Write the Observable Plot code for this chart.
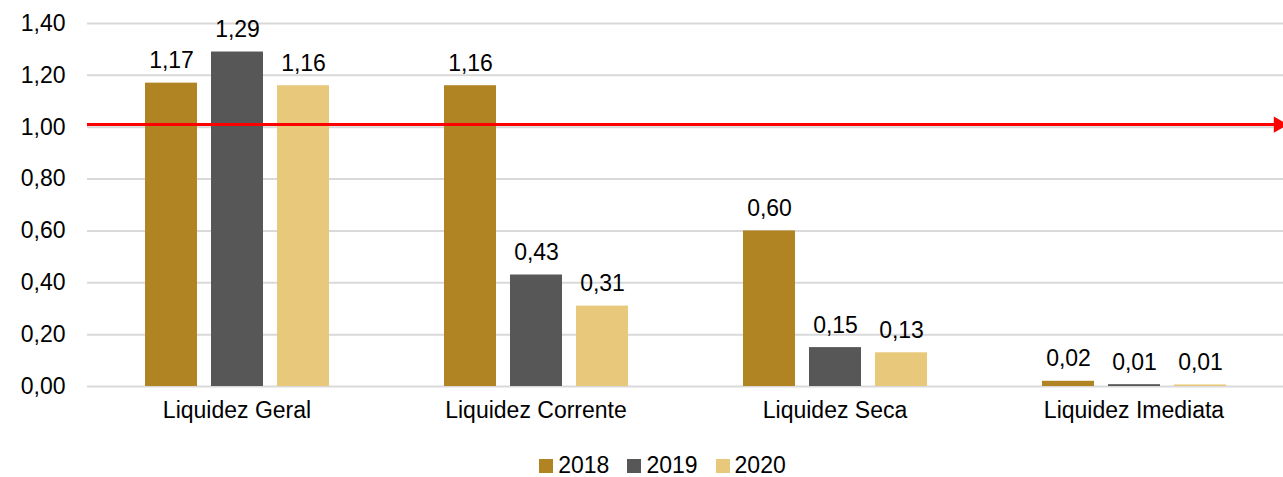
<!DOCTYPE html>
<html>
<head>
<meta charset="utf-8">
<script src="https://cdn.jsdelivr.net/npm/d3@7"></script>
<script src="https://cdn.jsdelivr.net/npm/@observablehq/plot@0.6"></script>
<style>
  body { margin: 0; background: #fff; font-family: Arial, "Liberation Sans", sans-serif; }
  #legend { display: flex; justify-content: center; align-items: center; height: 37px; margin-top: 7px; padding-left: 42px; font-size: 23px; color: #000; }
  #legend .item { display: flex; align-items: center; margin: 0 9px; }
  #legend .sw { width: 14px; height: 14px; margin-right: 5px; }
</style>
</head>
<body>
<div id="chart"></div>
<div id="legend"></div>
<script>
const categories = ["Liquidez Geral", "Liquidez Corrente", "Liquidez Seca", "Liquidez Imediata"];
const years = ["2018", "2019", "2020"];
const values2018 = [1.17, 1.16, 0.60, 0.02];
const values2019 = [1.29, 0.43, 0.15, 0.007];
const values2020 = [1.16, 0.31, 0.13, 0.006];
const yTicks = [0, 0.2, 0.4, 0.6, 0.8, 1.0, 1.2, 1.4];
const referenceValue = [1.01];
const colors = ["#B08323", "#575757", "#E8C87A"];

const series = [values2018, values2019, values2020];
const data = [];
categories.forEach((c, i) => {
  years.forEach((yr, j) => data.push({category: c, year: yr, value: series[j][i]}));
});

const fmt = v => d3.format(".2f")(v).replace(".", ",");
const FONT = 23;

const plot = Plot.plot({
  width: 1283,
  height: 440,
  marginTop: 23,
  marginBottom: 54,
  marginLeft: 86,
  marginRight: 0,
  style: { fontFamily: 'Arial, "Liberation Sans", sans-serif', fontSize: FONT + "px", color: "#000", background: "#fff" },
  fx: { domain: categories, padding: 0, label: null },
  x: { domain: years, paddingInner: 0.218, paddingOuter: 0.859, axis: null },
  y: { domain: [0, 1.4], label: null },
  color: { domain: years, range: colors },
  marks: [
    Plot.gridY(yTicks, { stroke: "#d9d9d9", strokeOpacity: 1, strokeWidth: 2 }),
    Plot.axisY({ ticks: yTicks, tickSize: 0, tickPadding: 22, tickFormat: fmt, fontSize: FONT, label: null }),
    Plot.axisFx({ anchor: "bottom", tickSize: 0, tickPadding: 15, fontSize: FONT, label: null }),
    Plot.barY(data, { fx: "category", x: "year", y: "value", fill: "year" }),
    Plot.text(data, { fx: "category", x: "year", y: "value", text: d => fmt(d.value), lineAnchor: "bottom", dy: -15, fontSize: FONT, fill: "#000" }),
    Plot.ruleY(referenceValue, { stroke: "#ff0000", strokeWidth: 3 }),
    Plot.dot(referenceValue.map(v => ({category: categories[categories.length - 1], v})), {
      fx: "category", y: "v", frameAnchor: "right", symbol: "triangle", rotate: 90, r: 6, dx: -5, fill: "#ff0000", stroke: "none"
    })
  ]
});
document.getElementById("chart").appendChild(plot);

const legend = document.getElementById("legend");
years.forEach((yr, j) => {
  const item = document.createElement("div");
  item.className = "item";
  const sw = document.createElement("div");
  sw.className = "sw";
  sw.style.background = colors[j];
  const t = document.createElement("span");
  t.textContent = yr;
  item.appendChild(sw);
  item.appendChild(t);
  legend.appendChild(item);
});
</script>
</body>
</html>
